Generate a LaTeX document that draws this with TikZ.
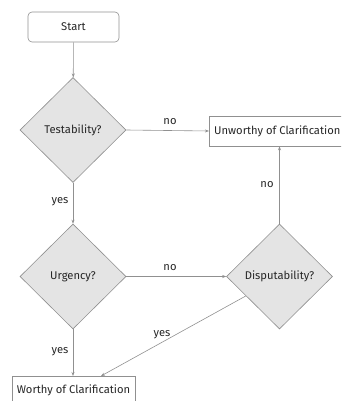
\documentclass[tikz,border=0pt]{standalone}
\usepackage{fontspec}
\setmainfont{Fira Sans}
\usetikzlibrary{shapes.geometric,arrows.meta,calc}
\definecolor{edgegray}{HTML}{909090}
\definecolor{fillgray}{HTML}{E4E4E4}
\begin{document}
\begin{tikzpicture}[x=1pt,y=-1pt,
  every node/.style={font=\fontsize{11.2}{13}\selectfont, text=black!85},
  procbox/.style={draw=edgegray, line width=0.6pt, rectangle, inner sep=0pt, anchor=center},
  decision/.style={draw=edgegray, fill=fillgray, line width=0.6pt, diamond, inner sep=0pt, minimum width=106pt, minimum height=105pt},
  conn/.style={draw=edgegray, line width=0.6pt, -{Stealth[length=4pt,width=3pt]}},
  lbl/.style={inner sep=1pt}]
\useasboundingbox (0,0) rectangle (341,401);
\clip (0,0) rectangle (341,401);
\node[procbox, rounded corners=4pt, minimum width=91pt, minimum height=30pt] (start) at (73.5,27) {Start};
\node[decision] (test) at (73,130) {Testability?};
\node[decision] (urg) at (73,276.5) {Urgency?};
\node[decision] (disp) at (279.5,276.5) {Disputability?};
\node[procbox, minimum width=150pt, minimum height=30pt, anchor=west] (unw) at (209,131) {};
\node[anchor=west, inner sep=0pt] (unwt) at (214,131) {Unworthy of Clarification};
\node[procbox, minimum width=123pt, minimum height=40pt, anchor=north west] (wor) at (12,376) {};
\node[inner sep=0pt] (wort) at (73.5,390.5) {Worthy of Clarification};
\coordinate (wend) at (101,376);
\draw[conn] (start) -- (test);
\draw[conn] (test.east) -- (unw.west);
\draw[conn] (test) -- (urg);
\draw[conn] (urg.east) -- (disp.west);
\draw[conn] (disp.north) -- (disp.north |- unw.south);
\draw[conn] (urg.south) -- (urg.south |- wor.north);
\draw[conn] (disp.210) -- (wend);
\node[lbl] (l1) at (170,122) {no};
\node[lbl] (l2) at (60,202) {yes};
\node[lbl] (l3) at (170,268) {no};
\node[lbl] (l4) at (267,185) {no};
\node[lbl] (l5) at (60,352) {yes};
\node[lbl] (l6) at (162,335) {yes};
\end{tikzpicture}
\end{document}
